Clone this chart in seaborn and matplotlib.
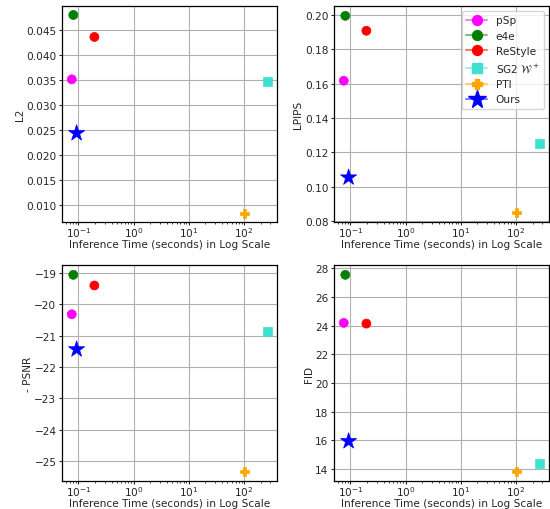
import matplotlib
matplotlib.use("Agg")
import matplotlib.pyplot as plt
import seaborn as sns
import pandas as pd
from matplotlib.lines import Line2D
from matplotlib.colors import to_rgba

methods = ["pSp", "e4e", "ReStyle", "SG2 $\\mathcal{W}^+$", "PTI", "Ours"]
inference_time = [0.076, 0.081, 0.195, 262, 102, 0.093]
l2 = [0.0352, 0.0481, 0.0437, 0.0347, 0.0084, 0.0244]
lpips = [0.1618, 0.1996, 0.1909, 0.1253, 0.0852, 0.1054]
neg_psnr = [-20.32, -19.06, -19.40, -20.86, -25.33, -21.44]
fid = [24.20, 27.55, 24.15, 14.40, 13.86, 15.95]

colors = ["#ff00ff", "#008000", "#ff0000", "#40e0d0", "#ffa500", "#0000ff"]
markers = ["o", "o", "o", "s", "P", "*"]
sizes = [42, 42, 42, 42, 42, 150]

sns.set_style("ticks", {"axes.grid": True, "grid.color": "#b0b0b0",
                        "axes.edgecolor": "black"})
plt.rcParams["font.family"] = ["DejaVu Sans"]
fs = 7.6

df = pd.DataFrame({"Method": methods, "Time": inference_time, "L2": l2,
                   "LPIPS": lpips, "- PSNR": neg_psnr, "FID": fid})
pal = dict(zip(methods, colors))
mk = dict(zip(methods, markers))
sz = dict(zip(methods, sizes))

fig = plt.figure(figsize=(5.5, 5.1), dpi=100)
W, H = 550, 510
boxes = [(62, 7, 277, 223), (334, 7, 549, 223), (62, 266, 277, 482), (334, 266, 549, 482)]
metrics = ["L2", "LPIPS", "- PSNR", "FID"]
for (l, t, r, b), m in zip(boxes, metrics):
    ax = fig.add_axes([l / W, 1 - b / H, (r - l) / W, (b - t) / H])
    sns.scatterplot(data=df, x="Time", y=m, hue="Method", palette=pal,
                    style="Method", markers=mk, size="Method", sizes=sz,
                    linewidth=0.5, edgecolor=df["Method"].map(pal).tolist(),
                    legend=False, ax=ax, zorder=3)
    ax.set_xscale("log")
    ax.set_xlabel("Inference Time (seconds) in Log Scale", fontsize=fs, labelpad=0)
    ax.set_ylabel(m, fontsize=fs, labelpad=1)
    ax.tick_params(axis="both", labelsize=fs, length=2.5, width=0.8,
                   direction="out", pad=1.5)
    ax.tick_params(axis="x", which="both", pad=0.3)
    ax.tick_params(axis="x", which="major", length=2.2)
    ax.tick_params(axis="x", which="minor", length=1.2, width=0.6)
    ax.grid(True, which="major", color="#b0b0b0", linewidth=0.8)
    ax.grid(False, which="minor")
    for s in ax.spines.values():
        s.set_linewidth(0.9)
        s.set_color("black")
    ax.set_axisbelow(True)
    if m == "L2":
        ax.set_ylim(0.0066, 0.0499)
    if m == "LPIPS":
        handles = []
        for name, c, mkr, s_ in zip(methods, colors, markers, sizes):
            lc = to_rgba(c, 0.5)
            handles.append(Line2D([0], [0], color=lc, lw=1.5, marker=mkr,
                                  markersize=(s_ ** 0.5) * 1.1,
                                  markerfacecolor=c, markeredgecolor=c, label=name))
        ax.legend(handles=handles, loc="upper right", fontsize=fs,
                  frameon=True, framealpha=0.8, edgecolor="#cccccc",
                  borderpad=0.4, labelspacing=0.5, handlelength=2.0,
                  handletextpad=0.8)

fig.savefig("out.png", dpi=100)
